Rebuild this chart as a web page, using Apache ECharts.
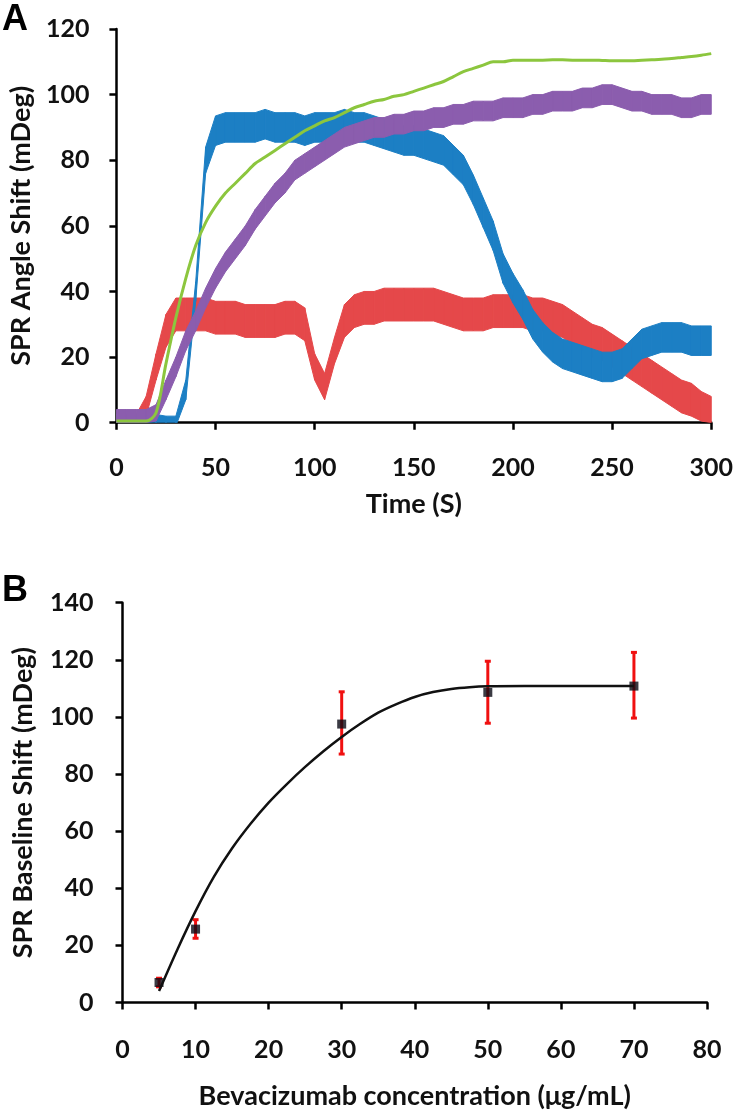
<!DOCTYPE html>
<html>
<head>
<meta charset="utf-8">
<script src="https://cdn.jsdelivr.net/npm/echarts@6/dist/echarts.min.js"></script>
<style>
  html, body { margin: 0; padding: 0; background: #fff; }
  #chart { width: 736px; height: 1118px; }
</style>
</head>
<body>
<div id="chart"></div>
<script>
// ---- panel A: SPR angle shift traces, read every 5 s ----
const timeS = [0,5,10,15,20,25,30,35,40,45,50,55,60,65,70,75,80,85,90,95,
  100,105,110,115,120,125,130,135,140,145,150,155,160,165,170,175,180,185,190,195,
  200,205,210,215,220,225,230,235,240,245,250,255,260,265,270,275,280,285,290,295,300];

const redShift = [1,1,1,5,17,28,33,33,33,33, 32,32,32,31,31,31,31,32,32,30,
  17,11,22,31,34,35,35,36,36,36, 36,36,36,35,34,33,33,33,34,34,
  34,34,33,33,32,31,29,27,25,24, 22,20,18,16,14,12,10,8,7,5, 4];
// half width of the noise band around each trace
const redNoise = [1.5,1.5,1.5,3,4,5,5,5,5,5, 5,5,5,5,5,5,5,5,5,5,
  4,4,4,5,5,5,5,5,5,5, 5,5,5,5,5,5,5,5,5,5,
  5,5,5,5,5,5,5,5,5,5, 5,5,5,5,5,5,5,5,5,4.5, 4];

const blueShift = [1,1,1,1,1,0.5,0.5,10,40,80, 89,90,90,90,90,91,90,90,90,89,
  90,90,90,91,90,90,89,88,87,86, 86,85,84,83,80,77,71,64,57,47,
  41,36,30,26,23,21,20,19,18,17, 17,18,21,24,25,26,26,26,25,25, 25];
const blueNoise = [1.5,1.5,1.5,1.5,1.5,1.5,1.5,3,3,4, 4.5,4.5,4.5,4.5,4.5,4.5,4.5,4.5,4.5,4.5,
  4.5,4.5,4.5,4.5,4.5,4.5,4.5,4.5,4.5,4.5, 4.5,4.5,4.5,4.5,4.5,4.5,4.5,4.5,4.5,4.5,
  4.5,4.5,4.5,4.5,4.5,4.5,4.5,4.5,4.5,4.5, 4.5,4.5,4.5,4.5,4.5,4.5,4.5,4.5,4.5,4.5, 4.5];

const purpleShift = [2,2,2,2,3,10,17,25,31,38, 44,49,53,57,62,66,70,73,77,79,
  81,83,85,87,88,89,90,90,91,91, 92,92,93,93,94,94,95,95,95,96,
  96,96,97,97,98,98,98,99,99,100, 100,99,98,98,97,97,97,96,96,97, 97];
const purpleNoise = [2,2,2,2,2.5,3,3,3,3,3, 3,3,3,3,3,3,3,3,3,3,
  3,3,3,3,3,3,3,3,3,3, 3,3,3,3,3,3,3,3,3,3,
  3,3,3,3,3,3,3,3,3,3, 3,3,3,3,3,3,3,3,3,3, 3];

const greenShift = [0.5,0.5,0.5,0.5,3,18,32,44,54,61, 66,70,73,76,79,81,83,85,87,89,
  90.5,92,93,94.5,96,97,98,98.5,99.5,100, 101,102,103,104,105.5,107,108,109,110,110,
  110.5,110.5,110.5,110.5,110.6,110.6,110.5,110.5,110.5,110.4, 110.3,110.3,110.3,110.5,110.6,110.8,111,111.3,111.6,112, 112.5];

// ---- panel B: baseline shift vs concentration ----
const concB = [5, 10, 30, 50, 70];
const shiftB = [7, 25.7, 97.5, 108.6, 110.8];
const errLowB = [5.5, 22.5, 87, 97.8, 99.6];
const errHighB = [8.5, 29, 108.8, 119.5, 122.6];

const fitConc = [5,7.5,10,12.5,15,17.5,20,22.5,25,27.5,30,32.5,35,37.5,40,42.5,45,47.5,50,55,60,65,70];
const fitShift = [4,18.5,32,44,54,62.5,70,76.5,82.5,88,93,97.5,101.5,104.5,107,108.7,109.8,110.4,110.7,110.8,110.8,110.8,110.8];

const chart = echarts.init(document.getElementById('chart'));

const fontFamily = 'Lato, "DejaVu Sans", sans-serif';
const labelStyle = { color: '#111', fontFamily, fontSize: 25, fontWeight: 'bold' };
const nameStyle = { color: '#111', fontFamily, fontSize: 27, fontWeight: 'bold' };

function axisBase(extra, margin) {
  return Object.assign({
    type: 'value',
    nameLocation: 'middle',
    nameTextStyle: nameStyle,
    axisLine: { show: true, onZero: false, lineStyle: { color: '#000', width: 2.5 } },
    axisTick: { show: true, inside: false, length: 7, lineStyle: { color: '#000', width: 2.5 } },
    splitLine: { show: false },
    axisLabel: Object.assign({ showMinLabel: true, showMaxLabel: true, margin }, labelStyle)
  }, extra);
}

// noisy trace drawn as a filled band between (value - noise) and (value + noise)
function noisyTrace(name, values, noise, color) {
  const segs = [];
  for (let i = 0; i < values.length - 1; i++) {
    segs.push([timeS[i], values[i] - noise[i], values[i] + noise[i],
      timeS[i + 1], values[i + 1] - noise[i + 1], values[i + 1] + noise[i + 1]]);
  }
  return {
    name, type: 'custom', xAxisIndex: 0, yAxisIndex: 0, clip: true, silent: true,
    data: segs,
    encode: { x: [0, 3], y: [1, 2, 4, 5] },
    renderItem(params, api) {
      const pts = [
        api.coord([api.value(0), api.value(2)]),
        api.coord([api.value(3), api.value(5)]),
        api.coord([api.value(3), api.value(4)]),
        api.coord([api.value(0), api.value(1)])
      ];
      return {
        type: 'polygon',
        shape: { points: pts },
        style: { fill: color, stroke: color, lineWidth: 1 }
      };
    }
  };
}

const option = {
  backgroundColor: '#fff',
  animation: false,
  graphic: [
    { type: 'text', left: 2, top: 2, style: { text: 'A', font: 'bold 36px "Liberation Sans", Arial, sans-serif', fill: '#000' } },
    { type: 'text', left: 2, top: 573, style: { text: 'B', font: 'bold 36px "Liberation Sans", Arial, sans-serif', fill: '#000' } }
  ],
  grid: [
    { left: 115.5, right: 23.5, top: 29, bottom: 695.3 },
    { left: 122.5, right: 29, top: 602.7, bottom: 115.5 }
  ],
  xAxis: [
    axisBase({ gridIndex: 0, min: 0, max: 300, interval: 50, name: 'Time (S)', nameGap: 68 }, 33),
    axisBase({ gridIndex: 1, min: 0, max: 80, interval: 10, name: 'Bevacizumab concentration (μg/mL)', nameGap: 80 }, 35)
  ],
  yAxis: [
    axisBase({ gridIndex: 0, min: 0, max: 120, interval: 20, name: 'SPR Angle Shift (mDeg)', nameGap: 80 }, 27),
    axisBase({ gridIndex: 1, min: 0, max: 140, interval: 20, name: 'SPR Baseline Shift (mDeg)', nameGap: 86 }, 29)
  ],
  series: [
    noisyTrace('red', redShift, redNoise, '#e5484a'),
    noisyTrace('blue', blueShift, blueNoise, '#1c7fc4'),
    noisyTrace('purple', purpleShift, purpleNoise, '#8b5dae'),
    {
      name: 'green', type: 'line', xAxisIndex: 0, yAxisIndex: 0,
      data: greenShift.map((v, i) => [timeS[i], v]),
      showSymbol: false, smooth: 0.3,
      lineStyle: { color: '#8cc63e', width: 3 }
    },
    // error bars
    {
      type: 'custom', xAxisIndex: 1, yAxisIndex: 1,
      data: concB.map((c, i) => [c, errLowB[i], errHighB[i]]),
      encode: { x: 0, y: [1, 2] },
      renderItem(params, api) {
        const top = api.coord([api.value(0), api.value(2)]);
        const bot = api.coord([api.value(0), api.value(1)]);
        const st = { stroke: '#f01010', lineWidth: 3 };
        return {
          type: 'group',
          children: [
            { type: 'line', shape: { x1: top[0], y1: top[1], x2: bot[0], y2: bot[1] }, style: st },
            { type: 'line', shape: { x1: top[0] - 3, y1: top[1], x2: top[0] + 3, y2: top[1] }, style: st },
            { type: 'line', shape: { x1: bot[0] - 3, y1: bot[1], x2: bot[0] + 3, y2: bot[1] }, style: st }
          ]
        };
      }
    },
    {
      name: 'fit', type: 'line', xAxisIndex: 1, yAxisIndex: 1,
      data: fitConc.map((c, i) => [c, fitShift[i]]),
      showSymbol: false, smooth: 0.3,
      lineStyle: { color: '#111', width: 2.5 }
    },
    {
      name: 'mean', type: 'scatter', xAxisIndex: 1, yAxisIndex: 1,
      data: concB.map((c, i) => [c, shiftB[i]]),
      symbol: 'rect', symbolSize: 9,
      itemStyle: { color: '#0a0a14' }
    }
  ]
};

chart.setOption(option);
</script>
</body>
</html>
